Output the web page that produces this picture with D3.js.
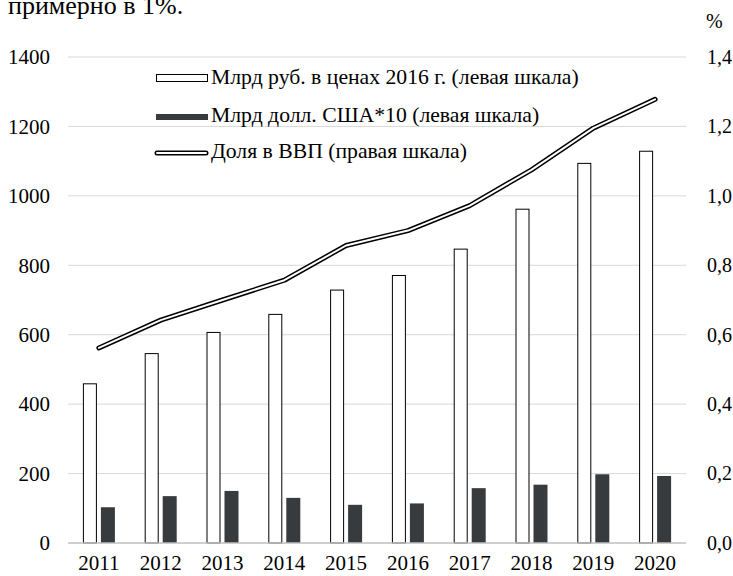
<!DOCTYPE html>
<html>
<head>
<meta charset="utf-8">
<script src="https://cdn.jsdelivr.net/npm/d3@7"></script>
<style>
  body { margin: 0; background: #fff; }
  text { font-family: "Liberation Serif", "Times New Roman", serif; fill: #000; }
</style>
</head>
<body>
<script>
var years = ["2011", "2012", "2013", "2014", "2015", "2016", "2017", "2018", "2019", "2020"];
var rubBln = [460, 547, 608, 660, 730, 772, 848, 963, 1095, 1130];
var usdBln10 = [103, 135, 150, 130, 110, 114, 158, 168, 198, 193];
var gdpShare = [0.562, 0.642, 0.70, 0.757, 0.857, 0.90, 0.972, 1.075, 1.195, 1.278];
var leftTicks = [0, 200, 400, 600, 800, 1000, 1200, 1400];
var rightTicks = [0, 0.2, 0.4, 0.6, 0.8, 1.0, 1.2, 1.4];
var legendLabels = ["Млрд руб. в ценах 2016 г. (левая шкала)", "Млрд долл. США*10 (левая шкала)", "Доля в ВВП (правая шкала)"];

var width = 733, height = 576;
var plotL = 68, plotR = 686, plotT = 57, plotB = 543;
var fs = "21px";

var svg = d3.select("body").append("svg")
  .attr("width", width)
  .attr("height", height);

// text cut at top of the picture
svg.append("text")
  .attr("x", 8).attr("y", 14)
  .attr("font-size", "26px")
  .text("примерно в 1%.");

var x = d3.scaleBand().domain(years).range([plotL, plotR]);
var bw = x.bandwidth();
var x1 = d3.scaleBand().domain(["rub", "usd"])
  .range([bw / 2 - 16, bw / 2 + 16]).paddingInner(0.222);

var y = d3.scaleLinear().domain([0, 1400]).range([plotB, plotT]);
var y2 = d3.scaleLinear().domain([0, 1.4]).range([plotB, plotT]);

// gridlines
svg.append("g").selectAll("line")
  .data(leftTicks.slice(1))
  .enter().append("line")
  .attr("x1", plotL).attr("x2", plotR)
  .attr("y1", function(d) { return y(d); })
  .attr("y2", function(d) { return y(d); })
  .attr("stroke", "#d9d9d9").attr("stroke-width", 1);

// left axis
var yAxis = d3.axisLeft(y).tickValues(leftTicks).tickSize(0).tickPadding(18)
  .tickFormat(d3.format("d"));
var gl = svg.append("g").attr("transform", "translate(" + plotL + ",0)").call(yAxis);
gl.select(".domain").remove();
gl.selectAll("text").attr("font-size", fs)
  .style("font-family", "Liberation Serif, serif");

// right axis
var yAxis2 = d3.axisRight(y2).tickValues(rightTicks).tickSize(0).tickPadding(21)
  .tickFormat(function(d) { return d3.format(".1f")(d).replace(".", ","); });
var gr = svg.append("g").attr("transform", "translate(" + plotR + ",0)").call(yAxis2);
gr.select(".domain").remove();
gr.selectAll("text").attr("font-size", "20px")
  .style("font-family", "Liberation Serif, serif");

svg.append("text")
  .attr("x", 706).attr("y", 28)
  .attr("font-size", "20px")
  .text("%");

// bars
var groups = svg.append("g").selectAll("g")
  .data(years)
  .enter().append("g")
  .attr("transform", function(d) { return "translate(" + x(d) + ",0)"; });

groups.append("rect")
  .attr("x", x1("rub") + 0.5)
  .attr("y", function(d, i) { return y(rubBln[i]) + 0.5; })
  .attr("width", x1.bandwidth() - 1)
  .attr("height", function(d, i) { return y(0) - y(rubBln[i]) - 0.5; })
  .attr("fill", "#fff")
  .attr("stroke", "#000")
  .attr("stroke-width", 1);

groups.append("rect")
  .attr("x", x1("usd"))
  .attr("y", function(d, i) { return y(usdBln10[i]); })
  .attr("width", x1.bandwidth())
  .attr("height", function(d, i) { return y(0) - y(usdBln10[i]); })
  .attr("fill", "#383b3e");

// x axis baseline
svg.append("line")
  .attr("x1", plotL).attr("x2", plotR)
  .attr("y1", y(0)).attr("y2", y(0))
  .attr("stroke", "#bfbfbf").attr("stroke-width", 1.5);

var xAxis = d3.axisBottom(x).tickSize(0).tickPadding(12);
var gx = svg.append("g").attr("transform", "translate(0," + plotB + ")").call(xAxis);
gx.select(".domain").remove();
gx.selectAll("text").attr("font-size", fs)
  .style("font-family", "Liberation Serif, serif");

// double line
var line = d3.line()
  .x(function(d, i) { return x(years[i]) + bw / 2; })
  .y(function(d) { return y2(d); });

svg.append("path").datum(gdpShare)
  .attr("d", line)
  .attr("fill", "none").attr("stroke", "#000")
  .attr("stroke-width", 5).attr("stroke-linecap", "round").attr("stroke-linejoin", "round");
svg.append("path").datum(gdpShare)
  .attr("d", line)
  .attr("fill", "none").attr("stroke", "#fff")
  .attr("stroke-width", 2).attr("stroke-linecap", "round").attr("stroke-linejoin", "round");

// legend
var lg = svg.append("g");
var legY = [78, 117, 153];
var legBase = [83.5, 121.5, 157.5];

lg.append("rect")
  .attr("x", 156.5).attr("y", legY[0] - 3.5).attr("width", 51).attr("height", 7)
  .attr("fill", "#fff").attr("stroke", "#000");
lg.append("rect")
  .attr("x", 156).attr("y", legY[1] - 3).attr("width", 52).attr("height", 6)
  .attr("fill", "#383b3e");
lg.append("line")
  .attr("x1", 157).attr("x2", 206).attr("y1", legY[2]).attr("y2", legY[2])
  .attr("stroke", "#000").attr("stroke-width", 5).attr("stroke-linecap", "round");
lg.append("line")
  .attr("x1", 157).attr("x2", 206).attr("y1", legY[2]).attr("y2", legY[2])
  .attr("stroke", "#fff").attr("stroke-width", 2).attr("stroke-linecap", "round");

lg.selectAll("text.leg")
  .data(legendLabels)
  .enter().append("text")
  .attr("class", "leg")
  .attr("x", 211)
  .attr("y", function(d, i) { return legBase[i]; })
  .attr("font-size", "21.7px")
  .text(function(d) { return d; });
</script>
</body>
</html>
